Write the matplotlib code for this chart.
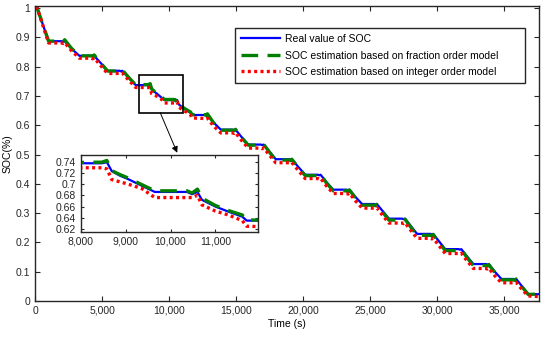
import matplotlib
matplotlib.use("Agg")
import matplotlib.pyplot as plt
from matplotlib.ticker import FuncFormatter, MultipleLocator
from matplotlib.patches import Rectangle

plt.rcParams['font.family'] = ['Liberation Sans', 'DejaVu Sans']
plt.rcParams['font.size'] = 7.5

# breakpoints (time in s), shared by the three curves
t = [0, 150, 1000,
     2000, 2100, 2200, 2700, 3300,
     4200, 4300, 4400, 4900, 5400,
     6300, 6400, 6500, 7000, 7500,
     8470, 8580, 8690, 8870, 9050, 9360, 9650,
     10370, 10480, 10600, 10700, 11000, 11290, 11600, 11700,
     12650, 12750, 12850, 13300, 13850,
     14750, 14850, 14950, 15400, 15900,
     16850, 16950, 17050, 17500, 17950,
     18950, 19050, 19150, 19650, 20150,
     21100, 21200, 21300, 21750, 22250,
     23250, 23350, 23450, 23900, 24400,
     25300, 25400, 25500, 25950, 26400,
     27400, 27500, 27600, 28050, 28500,
     29500, 29600, 29700, 30150, 30600,
     31600, 31700, 31800, 32250, 32700,
     33650, 33750, 33850, 34300, 34800,
     35700, 35800, 35900, 36350, 36800,
     37600]

soc_real = [1.0, 1.0, 0.887,
            0.887, 0.885, 0.887, 0.862, 0.837,
            0.837, 0.835, 0.837, 0.812, 0.786,
            0.786, 0.784, 0.786, 0.762, 0.737,
            0.737, 0.739, 0.723, 0.715, 0.709, 0.697, 0.686,
            0.686, 0.682, 0.686, 0.672, 0.660, 0.651, 0.642, 0.635,
            0.635, 0.633, 0.635, 0.610, 0.585,
            0.585, 0.583, 0.585, 0.560, 0.534,
            0.534, 0.532, 0.534, 0.509, 0.484,
            0.484, 0.482, 0.484, 0.457, 0.431,
            0.431, 0.429, 0.431, 0.405, 0.380,
            0.380, 0.378, 0.380, 0.355, 0.331,
            0.331, 0.329, 0.331, 0.306, 0.281,
            0.281, 0.279, 0.281, 0.255, 0.229,
            0.229, 0.227, 0.229, 0.203, 0.177,
            0.177, 0.175, 0.177, 0.151, 0.126,
            0.126, 0.124, 0.126, 0.100, 0.075,
            0.075, 0.073, 0.075, 0.049, 0.023,
            0.023]

soc_frac = [1.0, 1.0, 0.887,
            0.888, 0.886, 0.892, 0.863, 0.837,
            0.837, 0.835, 0.840, 0.812, 0.785,
            0.785, 0.783, 0.789, 0.762, 0.738,
            0.739, 0.742, 0.724, 0.717, 0.711, 0.699, 0.688,
            0.688, 0.684, 0.691, 0.675, 0.662, 0.653, 0.645, 0.636,
            0.636, 0.634, 0.639, 0.609, 0.583,
            0.583, 0.581, 0.586, 0.558, 0.532,
            0.532, 0.530, 0.535, 0.507, 0.481,
            0.481, 0.479, 0.484, 0.455, 0.428,
            0.428, 0.426, 0.431, 0.402, 0.376,
            0.376, 0.374, 0.379, 0.352, 0.327,
            0.327, 0.325, 0.330, 0.302, 0.276,
            0.276, 0.274, 0.279, 0.251, 0.224,
            0.224, 0.222, 0.227, 0.198, 0.172,
            0.172, 0.170, 0.175, 0.147, 0.121,
            0.121, 0.119, 0.124, 0.097, 0.072,
            0.072, 0.070, 0.075, 0.047, 0.022,
            0.024]

soc_int = [1.0, 1.0, 0.881,
           0.881, 0.879, 0.882, 0.855, 0.829,
           0.829, 0.827, 0.830, 0.803, 0.777,
           0.777, 0.775, 0.778, 0.753, 0.729,
           0.729, 0.727, 0.708, 0.704, 0.700, 0.692, 0.676,
           0.676, 0.676, 0.680, 0.663, 0.652, 0.645, 0.635, 0.625,
           0.623, 0.621, 0.624, 0.598, 0.574,
           0.574, 0.572, 0.575, 0.548, 0.522,
           0.522, 0.520, 0.523, 0.497, 0.472,
           0.472, 0.470, 0.473, 0.445, 0.418,
           0.418, 0.416, 0.419, 0.392, 0.367,
           0.367, 0.365, 0.368, 0.342, 0.317,
           0.317, 0.315, 0.318, 0.291, 0.266,
           0.266, 0.264, 0.267, 0.240, 0.214,
           0.214, 0.212, 0.215, 0.188, 0.162,
           0.162, 0.160, 0.163, 0.136, 0.111,
           0.111, 0.109, 0.112, 0.086, 0.062,
           0.062, 0.060, 0.063, 0.038, 0.017,
           0.015]

labels = ["Real value of SOC",
          "SOC estimation based on fraction order model",
          "SOC estimation based on integer order model"]

comma = FuncFormatter(lambda v, p: f"{v:,.0f}")
short = FuncFormatter(lambda v, p: f"{v:g}")


def draw_curves(ax):
    ax.plot(t, soc_real, color='#0000ff', lw=1.6, label=labels[0])
    ax.plot(t, soc_frac, color='#008000', lw=2.4, ls=(0, (5, 2.8)), label=labels[1])
    ax.plot(t, soc_int, color='#ff0000', lw=2.4, ls=(0, (0.9, 1.0)), label=labels[2])


def style_axes(ax):
    ax.tick_params(direction='in', top=True, right=True, length=3.5, width=0.8,
                   colors='#262626', labelsize=7.5)
    for s in ax.spines.values():
        s.set_linewidth(1.0)
        s.set_color('#262626')


fig = plt.figure(figsize=(5.5, 3.37), dpi=100)
ax = fig.add_axes([0.064, 0.107, 0.916, 0.875])
draw_curves(ax)
ax.set_xlim(0, 37600)
ax.set_ylim(0, 1.007)
ax.xaxis.set_major_locator(MultipleLocator(5000))
ax.yaxis.set_major_locator(MultipleLocator(0.1))
ax.xaxis.set_major_formatter(comma)
ax.yaxis.set_major_formatter(short)
ax.set_xlabel("Time (s)", labelpad=2)
ax.set_ylabel("SOC(%)", labelpad=2)
style_axes(ax)

leg = ax.legend(loc='upper left', bbox_to_anchor=(0.397, 0.926, 0.575, 0.0), mode='expand',
                fancybox=False, framealpha=1, edgecolor='#262626', handlelength=3.7,
                borderpad=0.6, labelspacing=0.62, handletextpad=0.45, fontsize=7.5,
                borderaxespad=0)
leg.get_frame().set_linewidth(1.0)

# zoom box and arrow
ax.add_patch(Rectangle((7760, 0.643), 3290, 0.130, fill=False, ec='black', lw=1.2, zorder=5))
ax.annotate("", xy=(10600, 0.506), xytext=(9330, 0.643),
            arrowprops=dict(arrowstyle='-|>', color='black', lw=0.7,
                            mutation_scale=9, shrinkA=0, shrinkB=0))

ins = fig.add_axes([0.147, 0.312, 0.322, 0.2285])
draw_curves(ins)
ins.set_xlim(8000, 11950)
ins.set_ylim(0.615, 0.752)
ins.xaxis.set_major_locator(MultipleLocator(1000))
ins.yaxis.set_major_locator(MultipleLocator(0.02))
ins.xaxis.set_major_formatter(comma)
ins.yaxis.set_major_formatter(short)
style_axes(ins)
ins.tick_params(length=2.5)

fig.savefig("out.png", dpi=100)
